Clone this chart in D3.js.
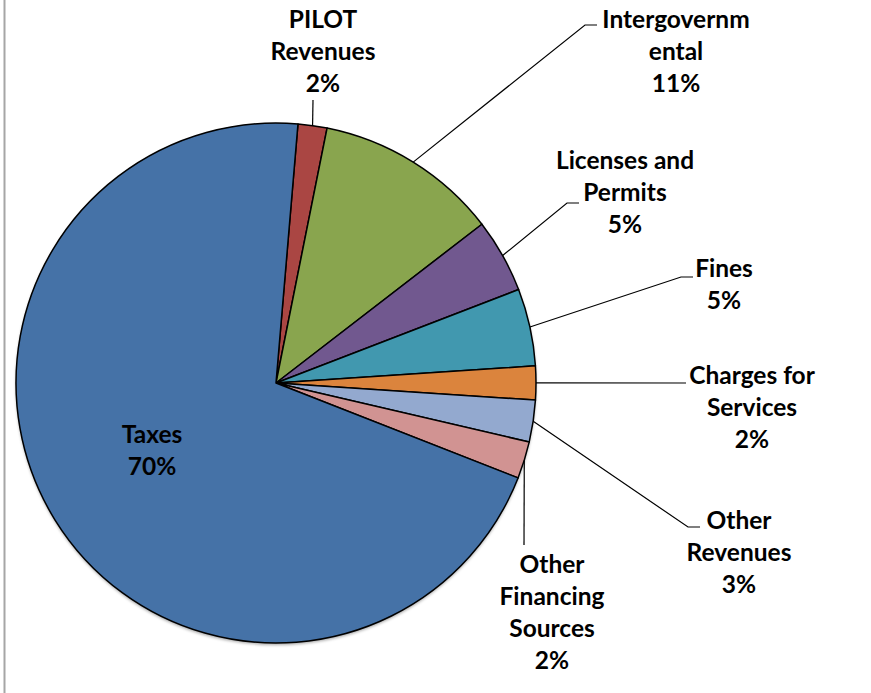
<!DOCTYPE html>
<html>
<head>
<meta charset="utf-8">
<script src="https://cdn.jsdelivr.net/npm/d3@7"></script>
<style>
  html, body { margin: 0; padding: 0; background: #fff; }
  svg { display: block; }
  .lbl { font-family: Lato, "Open Sans", sans-serif; font-weight: 700; font-size: 24.5px; fill: #000; }
</style>
</head>
<body>
<svg id="chart" width="871" height="693"></svg>
<script>
// Revenue sources, in clockwise order starting just right of 12 o'clock
const categories = [
  "PILOT Revenues", "Intergovernmental", "Licenses and Permits", "Fines",
  "Charges for Services", "Other Revenues", "Other Financing Sources", "Taxes"
];
// Share of total revenue (%)
const shares = [1.8, 11.4, 4.6, 4.8, 2.1, 2.6, 2.3, 70.4];
// How each category name wraps in its data label
const labelLines = [
  ["PILOT", "Revenues"], ["Intergovernm", "ental"], ["Licenses and", "Permits"], ["Fines"],
  ["Charges for", "Services"], ["Other", "Revenues"], ["Other", "Financing", "Sources"], ["Taxes"]
];
const colors = ["#AA4643", "#89A54E", "#71588F", "#4198AF", "#DB843D", "#93A9CF", "#D19392", "#4572A7"];

// Placement of data labels: text centre x, first baseline y, leader-line bend points
const labelLayout = [
  { x: 323, y: 28,  leader: [[313, 100]] },
  { x: 676, y: 28,  leader: [[585, 25], [597, 25]] },
  { x: 625, y: 169, leader: [[567, 203], [579, 203]] },
  { x: 724, y: 277, leader: [[681, 277], [693, 277]] },
  { x: 752, y: 384, leader: [[686, 383]] },
  { x: 739, y: 529, leader: [[688, 527], [700, 527]] },
  { x: 552, y: 573, leader: [[524, 545]] },
  { x: 152, y: 443, leader: null }
];

const svg = d3.select("#chart");
const cx = 276, cy = 383, radius = 260;
const lineGap = 32;
const firstSliceAngle = 4.85 * Math.PI / 180;

// Chart area frame edge on the left
svg.append("line")
  .attr("x1", 4.5).attr("x2", 4.5).attr("y1", 0).attr("y2", 693)
  .attr("stroke", "#a6a6a6").attr("stroke-width", 2);

const defs = svg.append("defs");
const shadow = defs.append("filter").attr("id", "pieShadow")
  .attr("x", "-10%").attr("y", "-10%").attr("width", "120%").attr("height", "120%");
shadow.append("feDropShadow")
  .attr("dx", 0).attr("dy", 2).attr("stdDeviation", 1.5)
  .attr("flood-color", "#000").attr("flood-opacity", 0.35);

const total = d3.sum(shares);
const pie = d3.pie().sort(null).value(d => d)
  .startAngle(firstSliceAngle).endAngle(firstSliceAngle + 2 * Math.PI);
const arcs = pie(shares);
const arc = d3.arc().innerRadius(0).outerRadius(radius);

const g = svg.append("g").attr("transform", `translate(${cx},${cy})`);

g.append("circle").attr("r", radius).attr("fill", "#4572A7").attr("filter", "url(#pieShadow)");

g.selectAll("path.slice")
  .data(arcs)
  .join("path")
  .attr("class", "slice")
  .attr("d", arc)
  .attr("fill", (d, i) => colors[i])
  .attr("stroke", "#000")
  .attr("stroke-width", 1.5)
  .attr("stroke-linejoin", "round");

// Leader lines from the middle of each slice's rim to its label
arcs.forEach((d, i) => {
  const lay = labelLayout[i];
  if (!lay.leader) return;
  const mid = (d.startAngle + d.endAngle) / 2;
  const start = [cx + radius * Math.sin(mid), cy - radius * Math.cos(mid)];
  const pts = [start, ...lay.leader];
  svg.append("path")
    .attr("d", d3.line()(pts))
    .attr("fill", "none")
    .attr("stroke", "#000")
    .attr("stroke-width", 1.2);
});

// Data labels: category name plus rounded percentage
arcs.forEach((d, i) => {
  const lay = labelLayout[i];
  const lines = labelLines[i].concat([Math.round(d.data / total * 100) + "%"]);
  const t = svg.append("text").attr("class", "lbl").attr("text-anchor", "middle");
  lines.forEach((ln, k) => {
    t.append("tspan").attr("x", lay.x).attr("y", lay.y + k * lineGap).text(ln);
  });
});
</script>
</body>
</html>
